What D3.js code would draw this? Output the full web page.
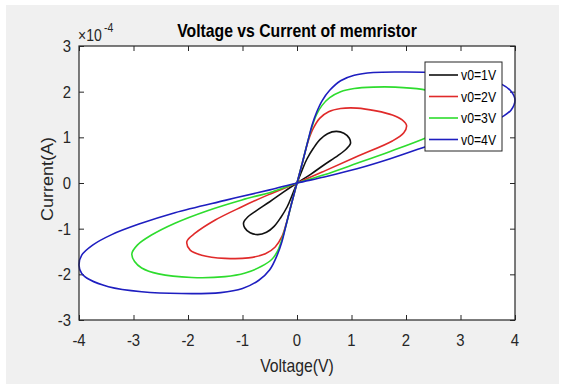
<!DOCTYPE html>
<html><head><meta charset="utf-8">
<script src="https://cdn.jsdelivr.net/npm/d3@7/dist/d3.min.js"></script>
<style>
html,body{margin:0;padding:0;background:#fff;}
svg{display:block;font-family:Arial,"Liberation Sans",sans-serif;}
</style></head>
<body>
<svg id="chart" width="563" height="387"></svg>
<script>
// ---- data (x in V, y in 1e-4 A); each loop: origin -> upper lobe -> origin -> lower lobe ----
const seriesNames = ["v0=1V", "v0=2V", "v0=3V", "v0=4V"];
const seriesColors = ["#111111", "#e02a2a", "#2edc2e", "#1e1ec0"];
const xTicks = [-4, -3, -2, -1, 0, 1, 2, 3, 4];
const yTicks = [-3, -2, -1, 0, 1, 2, 3];

const v1x = [0, 0.09, 0.18, 0.30, 0.42, 0.56, 0.72, 0.86, 0.96, 0.98, 0.90, 0.75, 0.50, 0.25,
             0, -0.25, -0.50, -0.75, -0.90, -0.98, -0.96, -0.86, -0.72, -0.56, -0.42, -0.30, -0.18, -0.09];
const v1y = [0, 0.27, 0.52, 0.76, 0.95, 1.08, 1.13, 1.09, 0.98, 0.86, 0.74, 0.60, 0.40, 0.19,
             0, -0.20, -0.41, -0.61, -0.74, -0.87, -0.98, -1.09, -1.13, -1.08, -0.95, -0.76, -0.52, -0.27];

const v2x = [0, 0.10, 0.20, 0.30, 0.42, 0.58, 0.80, 1.10, 1.45, 1.75, 1.93, 2.01, 1.96, 1.75, 1.10, 0.50,
             0, -0.53, -1.01, -1.50, -1.87, -2.02, -1.96, -1.75, -1.32, -0.89, -0.58, -0.40, -0.28, -0.20, -0.10];
const v2y = [0, 0.45, 0.90, 1.20, 1.42, 1.56, 1.63, 1.64, 1.58, 1.49, 1.38, 1.26, 1.10, 0.92, 0.58, 0.26,
             0, -0.26, -0.52, -0.81, -1.10, -1.28, -1.47, -1.58, -1.65, -1.64, -1.55, -1.40, -1.18, -0.90, -0.45];

const v3x = [0, 0.10, 0.20, 0.28, 0.36, 0.46, 0.60, 0.80, 1.05, 1.40, 1.80, 2.30, 2.60, 2.85, 2.97, 3.00, 2.93, 2.70, 2.35, 1.71, 1.10, 0.50,
             0, -0.45, -1.01, -1.63, -2.24, -2.67, -2.93, -3.03, -2.98, -2.85, -2.54, -1.93, -1.32, -0.95, -0.66, -0.46, -0.36, -0.28, -0.20, -0.10];
const v3y = [0, 0.45, 0.92, 1.25, 1.50, 1.70, 1.87, 2.00, 2.07, 2.10, 2.10, 2.05, 1.97, 1.84, 1.69, 1.55, 1.37, 1.17, 0.98, 0.69, 0.43, 0.18,
             0, -0.19, -0.37, -0.60, -0.88, -1.14, -1.36, -1.55, -1.72, -1.86, -1.99, -2.07, -2.05, -1.97, -1.83, -1.67, -1.50, -1.25, -0.92, -0.45];

const v4x = [0, 0.10, 0.20, 0.28, 0.36, 0.46, 0.60, 0.80, 1.05, 1.40, 2.00, 2.60, 3.10, 3.50, 3.76, 3.92, 4.00, 3.93, 3.78, 3.50, 3.00, 2.32, 1.71, 1.10, 0.50,
             0, -0.50, -1.32, -2.24, -2.90, -3.40, -3.75, -3.95, -4.00, -3.95, -3.80, -3.46, -2.85, -2.12, -1.40, -1.00, -0.70, -0.50, -0.36, -0.28, -0.20, -0.10];
const v4y = [0, 0.45, 0.92, 1.28, 1.55, 1.80, 2.03, 2.24, 2.36, 2.42, 2.43, 2.41, 2.36, 2.27, 2.16, 2.02, 1.82, 1.60, 1.46, 1.30, 1.07, 0.78, 0.53, 0.31, 0.13,
             0, -0.15, -0.38, -0.65, -0.90, -1.13, -1.36, -1.58, -1.80, -1.98, -2.12, -2.27, -2.38, -2.42, -2.40, -2.31, -2.13, -1.90, -1.57, -1.30, -0.92, -0.45];

const seriesX = [v1x, v2x, v3x, v4x];
const seriesY = [v1y, v2y, v3y, v4y];

// ---- layout ----
const svg = d3.select("#chart");
const SX = 0.876; // horizontal squeeze of text seen in reference
const M = {left: 79, right: 515, top: 46, bottom: 320};

svg.append("rect").attr("x", 6).attr("y", 5).attr("width", 553).attr("height", 379).attr("fill", "#f0f0f0");
svg.append("rect").attr("x", M.left).attr("y", M.top).attr("width", M.right - M.left).attr("height", M.bottom - M.top).attr("fill", "#ffffff");

const x = d3.scaleLinear().domain([-4, 4]).range([M.left, M.right]);
const y = d3.scaleLinear().domain([-3, 3]).range([M.bottom, M.top]);

const axisColor = "#262626";

// axes with inward ticks
const gx = svg.append("g").attr("transform", `translate(0,${M.bottom})`)
  .call(d3.axisBottom(x).tickValues(xTicks).tickSizeInner(-5).tickSizeOuter(0).tickFormat(""));
const gxt = svg.append("g").attr("transform", `translate(0,${M.top})`)
  .call(d3.axisTop(x).tickValues(xTicks).tickSizeInner(-5).tickSizeOuter(0).tickFormat(""));
const gy = svg.append("g").attr("transform", `translate(${M.left},0)`)
  .call(d3.axisLeft(y).tickValues(yTicks).tickSizeInner(-5).tickSizeOuter(0).tickFormat(""));
const gyr = svg.append("g").attr("transform", `translate(${M.right},0)`)
  .call(d3.axisRight(y).tickValues(yTicks).tickSizeInner(-5).tickSizeOuter(0).tickFormat(""));
[gx, gxt, gy, gyr].forEach(g => {
  g.selectAll("path.domain").remove();
  g.selectAll("line").attr("stroke", axisColor).attr("stroke-width", 1);
});

// curves
const line = d3.line().x(d => x(d[0])).y(d => y(d[1])).curve(d3.curveCatmullRomClosed.alpha(0.5));
const plot = svg.append("g");
seriesX.forEach((xs, i) => {
  const pts = xs.map((v, k) => [v, seriesY[i][k]]);
  plot.append("path").attr("d", line(pts)).attr("fill", "none")
    .attr("stroke", seriesColors[i]).attr("stroke-width", 1.6);
});

// box
svg.append("rect").attr("x", M.left).attr("y", M.top).attr("width", M.right - M.left).attr("height", M.bottom - M.top)
  .attr("fill", "none").attr("stroke", axisColor).attr("stroke-width", 1.2);

function txt(px, py, s, opts) {
  opts = opts || {};
  const g = svg.append("g").attr("transform", `translate(${px},${py}) ${opts.rot ? "rotate(-90) scale(1," + SX + ")" : "scale(" + SX + ",1)"}`);
  const t = g.append("text").text(s).attr("text-anchor", opts.anchor || "middle")
    .attr("font-size", opts.size || 17).attr("fill", opts.color || "#262626");
  if (opts.bold) t.attr("font-weight", "bold");
  return t;
}

// tick labels
xTicks.forEach(v => txt(x(v), 346, String(v), {size: 17}));
yTicks.forEach(v => txt(71, y(v) + 6, String(v), {size: 17, anchor: "end"}));

// exponent
txt(78, 41, "\u00d710", {size: 16, anchor: "start"});
txt(104, 32, "-4", {size: 12, anchor: "start"});

// titles
txt(297, 37, "Voltage vs Current of memristor", {size: 18, bold: true, color: "#000"});
txt(297, 372, "Voltage(V)", {size: 18});
txt(53, 179, "Current(A)", {size: 18, rot: true});

// legend
const lg = {x0: 425, y0: 62, x1: 502, y1: 151};
svg.append("rect").attr("x", lg.x0).attr("y", lg.y0).attr("width", lg.x1 - lg.x0).attr("height", lg.y1 - lg.y0)
  .attr("fill", "#fff").attr("stroke", axisColor).attr("stroke-width", 1);
const ly = d3.scalePoint().domain(seriesNames).range([75, 139.5]);
seriesNames.forEach((n, i) => {
  svg.append("line").attr("x1", 429).attr("x2", 458).attr("y1", ly(n)).attr("y2", ly(n))
    .attr("stroke", seriesColors[i]).attr("stroke-width", 1.6);
  txt(461, ly(n) + 5, n, {size: 14, anchor: "start", color: "#000"});
});
</script>
</body></html>
